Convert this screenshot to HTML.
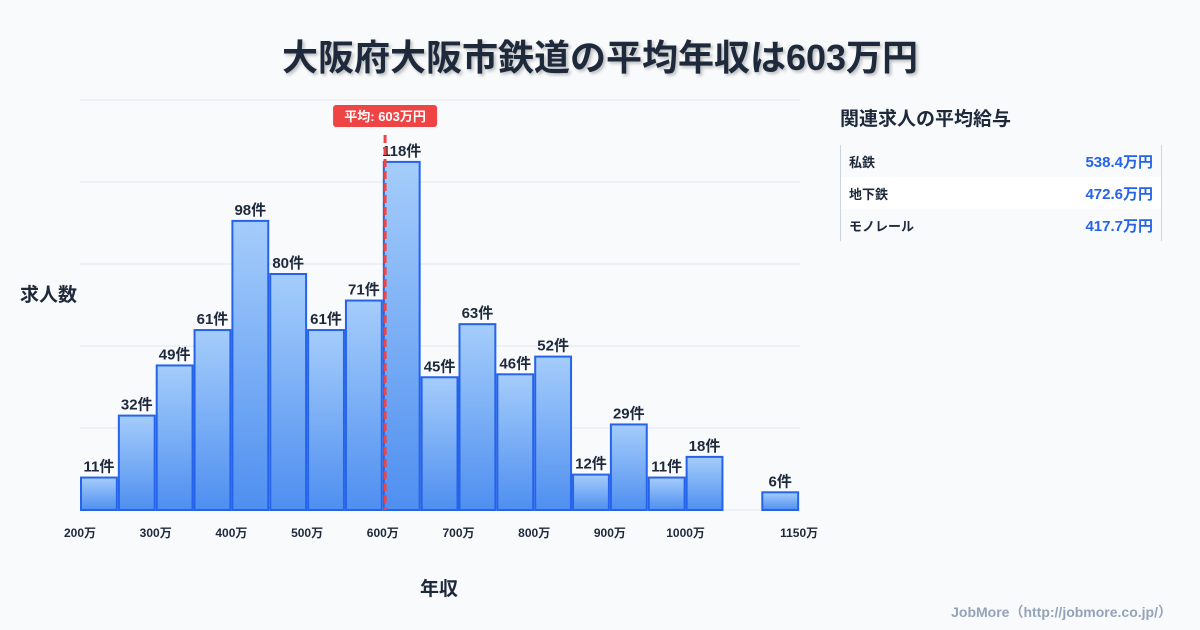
<!DOCTYPE html>
<html><head><meta charset="utf-8"><style>
body{margin:0;width:1200px;height:630px;background:#f8fafc;font-family:"Liberation Sans","Noto Sans CJK JP",sans-serif;overflow:hidden;position:relative;color:#1e293b}
.t{position:absolute;font-weight:bold}
</style></head><body>
<div class="t" style="left:0;width:1200px;top:29px;text-align:center;font-size:36px;text-shadow:2px 2px 3px rgba(0,0,0,0.25)">大阪府大阪市鉄道の平均年収は603万円</div>
<svg width="1200" height="630" style="position:absolute;left:0;top:0" id="chart">
<defs><linearGradient id="g" x1="0" y1="0" x2="0" y2="1"><stop offset="0" stop-color="#a5cdfb"/><stop offset="1" stop-color="#4f8ff0"/></linearGradient></defs>
</svg>
<div class="t" style="left:20px;top:280px;font-size:19px">求人数</div>
<div class="t" style="left:420px;top:574px;font-size:19px">年収</div>
<div class="t" style="left:840px;top:104px;font-size:19px">関連求人の平均給与</div>
<div style="position:absolute;left:840px;top:145px;width:320px;height:96px;border-left:1px solid #cbd5e1;border-right:1px solid #cbd5e1">
<div style="height:32px;display:flex;justify-content:space-between;align-items:center;padding:0 8px;font-weight:bold"><span style="font-size:13px">私鉄</span><span style="color:#2563eb;font-size:15px">538.4万円</span></div>
<div style="height:32px;display:flex;justify-content:space-between;align-items:center;padding:0 8px;font-weight:bold;background:#fff"><span style="font-size:13px">地下鉄</span><span style="color:#2563eb;font-size:15px">472.6万円</span></div>
<div style="height:32px;display:flex;justify-content:space-between;align-items:center;padding:0 8px;font-weight:bold"><span style="font-size:13px">モノレール</span><span style="color:#2563eb;font-size:15px">417.7万円</span></div>
</div>
<div class="t" style="right:28px;top:602px;font-size:14px;color:#94a3b8">JobMore（http://jobmore.co.jp/）</div>
<script>
const binStarts=[200,250,300,350,400,450,500,550,600,650,700,750,800,850,900,950,1000,1100];
const counts=[11,32,49,61,98,80,61,71,118,45,63,46,52,12,29,11,18,6];
const tickVals=[200,300,400,500,600,700,800,900,1000,1150];
const tickLabels=["200万","300万","400万","500万","600万","700万","800万","900万","1000万","1150万"];
const meanVal=603;
const meanLabel="平均: 603万円";
const svg=document.getElementById('chart');const NS="http://www.w3.org/2000/svg";
const X=v=>80+(v-200)*0.757;const Y=v=>510-v*2.95;
function mk(t,a,p){const e=document.createElementNS(NS,t);for(const k in a)e.setAttribute(k,a[k]);(p||svg).appendChild(e);return e;}
for(let i=0;i<6;i++){const g=mk('line',{x1:80,x2:800,y1:100+i*82,y2:100+i*82,stroke:'#e2e8f0','stroke-width':1});

}
binStarts.forEach((s,i)=>{const x0=X(s)+1,x1=X(s+50)-1,y=Y(counts[i]);
const r=mk('rect',{x:x0,y:y,width:x1-x0,height:510-y,fill:'url(#g)',stroke:'#2563eb','stroke-width':2});


const t=mk('text',{x:(x0+x1)/2,y:y-6,'text-anchor':'middle','font-size':15,'font-weight':'bold',fill:'#1e293b'});t.textContent=counts[i]+'件';

});
tickVals.forEach((v,i)=>{const t=mk('text',{x:X(v),y:537,'text-anchor':'middle','font-size':12,'font-weight':'bold',fill:'#1e293b'});t.textContent=tickLabels[i];

});
const mx=X(meanVal);
const ml=mk('line',{x1:mx,x2:mx,y1:135,y2:510,stroke:'#ef4444','stroke-width':3,'stroke-dasharray':'8,4'});


const mb=mk('rect',{x:mx-52,y:105,width:104,height:22,rx:3,fill:'#ef4444'});


const mt=mk('text',{x:mx,y:121,'text-anchor':'middle','font-size':13,'font-weight':'bold',fill:'#fff'});mt.textContent=meanLabel;


</script>
</body></html>
